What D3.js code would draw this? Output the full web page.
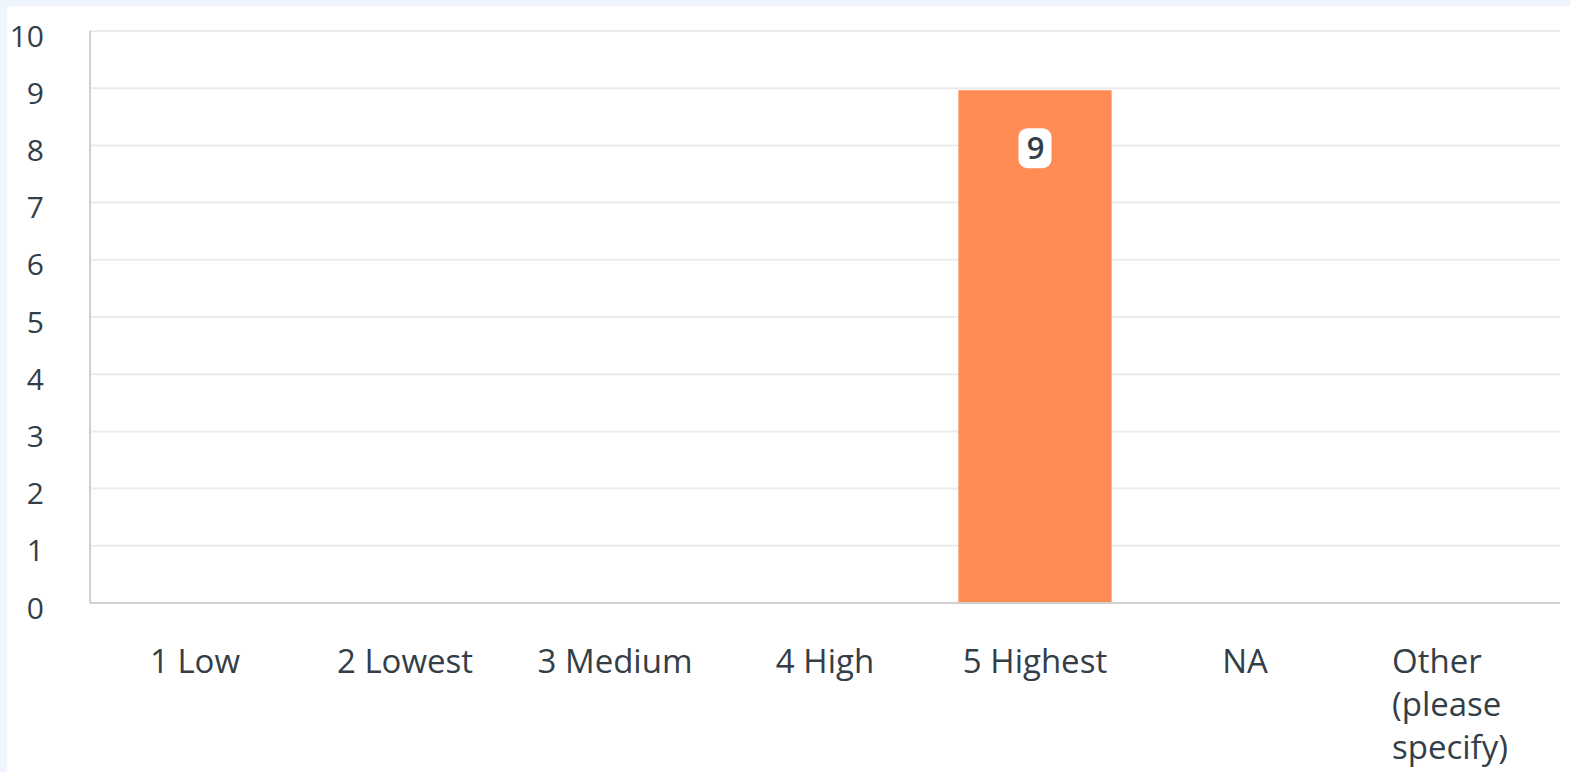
<!DOCTYPE html>
<html><head><meta charset="utf-8">
<script src="https://cdn.jsdelivr.net/npm/d3@7"></script>
<style>
html,body{margin:0;padding:0;background:#eef5fd;}
svg{display:block;}
</style></head><body>
<script>
const categories = ["1 Low","2 Lowest","3 Medium","4 High","5 Highest","NA","Other (please specify)"];
const values = [0,0,0,0,9,0,0];
const yTicks = [0,1,2,3,4,5,6,7,8,9,10];

const W=1570,H=772;
const svg=d3.select("body").append("svg").attr("width",W).attr("height",H);
svg.append("rect").attr("x",7).attr("y",6).attr("width",W-7).attr("height",H-6).attr("fill","#ffffff");

const m={left:90,right:10,top:31,bottom:169};
const x=d3.scaleBand().domain(categories).range([m.left,W-m.right]).paddingInner(0.27).paddingOuter(0.135);
const y=d3.scaleLinear().domain([0,10]).range([H-m.bottom,m.top]);
const font="'Open Sans', sans-serif";
const txt="#333e48";

// gridlines
svg.append("g").selectAll("line").data(yTicks.filter(d=>d>0)).join("line")
  .attr("x1",m.left).attr("x2",W-m.right).attr("y1",d=>y(d)).attr("y2",d=>y(d))
  .attr("stroke","#ebebeb").attr("stroke-width",2);

// y axis
const ya=svg.append("g").attr("transform",`translate(${m.left},0)`)
  .call(d3.axisLeft(y).tickValues(yTicks).tickSize(0).tickPadding(46).tickFormat(d3.format("d")));
ya.select(".domain").remove();
ya.selectAll("text").attr("font-family",font).attr("font-size",30).attr("fill",txt).attr("dy","0.5em");
svg.append("line").attr("x1",m.left).attr("x2",m.left).attr("y1",m.top).attr("y2",y(0))
  .attr("stroke","#d0d0d0").attr("stroke-width",2);

// bars
svg.append("g").selectAll("rect").data(categories.map((c,i)=>({c,v:values[i]}))).join("rect")
  .attr("x",d=>x(d.c)).attr("width",x.bandwidth())
  .attr("y",d=>y(d.v)+2).attr("height",d=>Math.max(0,y(0)-y(d.v)-2)).attr("fill","#ff8b55");

// x axis baseline
svg.append("line").attr("x1",m.left).attr("x2",W-m.right).attr("y1",y(0)).attr("y2",y(0))
  .attr("stroke","#d0d0d0").attr("stroke-width",2);

// x labels
categories.forEach(c=>{
  const cx=x(c)+x.bandwidth()/2;
  const lines = c==="Other (please specify)"?["Other","(please","specify)"]:[c];
  const t=svg.append("text").attr("font-family",font).attr("font-size",33).attr("fill",txt);
  if(lines.length===1){
    t.attr("x",cx).attr("y",673).attr("text-anchor","middle").text(c);
  } else {
    lines.forEach((l,i)=>t.append("tspan").attr("x",cx-63).attr("y",673+i*43).text(l));
  }
});

// data labels
categories.forEach((c,i)=>{
  if(values[i]<=0) return;
  const cx=x(c)+x.bandwidth()/2, cy=y(values[i])+60;
  svg.append("rect").attr("x",cx-16.5).attr("y",cy-20).attr("width",33).attr("height",40).attr("rx",9)
    .attr("fill","#ffffff");
  svg.append("text").attr("x",cx+0.5).attr("y",cy+11).attr("text-anchor","middle")
    .attr("font-family",font).attr("font-size",31).attr("font-weight",600).attr("fill",txt).text(values[i]);
});
</script>
</body></html>
